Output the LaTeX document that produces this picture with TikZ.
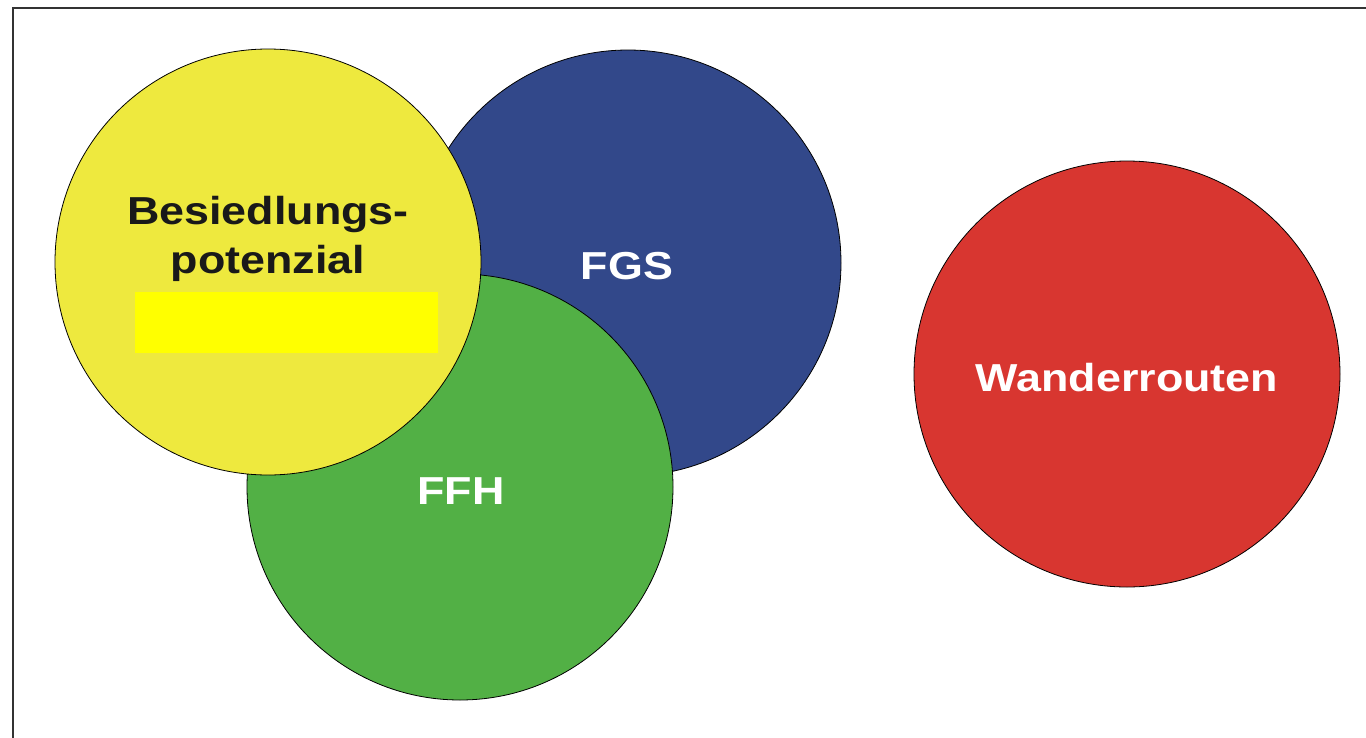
\documentclass[tikz,border=0pt]{standalone}
\usepackage{fontspec}
\setmainfont{Liberation Sans}
\newfontfamily\widefont[FakeStretch=1.15]{Liberation Sans}
\definecolor{cblue}{RGB}{50,72,138}
\definecolor{cgreen}{RGB}{82,176,69}
\definecolor{cyellow}{RGB}{238,233,62}
\definecolor{cred}{RGB}{216,54,48}
\definecolor{cbright}{RGB}{255,255,0}
\begin{document}
\begin{tikzpicture}[x=1pt,y=-1pt,
  blob/.style={circle,draw=black,line width=0.8pt,minimum size=426pt,inner sep=0pt},
  lbl/.style={font=\widefont\fontsize{39}{49}\selectfont\bfseries,align=center}]
\useasboundingbox (0,0) rectangle (1366,737);
\draw[line width=2pt,black!80] (12.5,760) -- (12.5,8) -- (1380,8);
\node[blob,fill=cblue] (fgs) at (628,263) {};
\node[blob,fill=cgreen] (ffh) at (460,487) {};
\node[blob,fill=cyellow] (bes) at (268,262) {};
\node[blob,fill=cred] (wan) at (1127,374) {};
\fill[cbright] (135,292) rectangle (438,353);
\node[lbl,text=white] (tfgs) at (627,266) {FGS};
\node[lbl,text=white] (tffh) at (461,491) {FFH};
\node[lbl,text=white] (twan) at (1127,378) {Wanderrouten};
\node[lbl,text=black!90] (tbes) at (268,239) {Besiedlungs-\\potenzial};
\end{tikzpicture}
\end{document}
